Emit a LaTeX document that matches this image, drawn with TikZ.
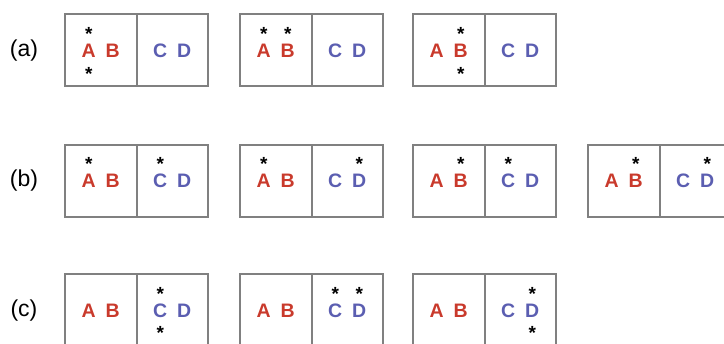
\documentclass[tikz,border=0pt]{standalone}
\usepackage{fontspec}
\setmainfont{Liberation Sans}
\usetikzlibrary{positioning}

\definecolor{pairred}{HTML}{C93A2C}
\definecolor{pairblue}{HTML}{5B5EB1}
\definecolor{boxgray}{HTML}{808080}

\newcommand{\redpair}{\textcolor{pairred}{A\hspace{9.9pt}B}}
\newcommand{\bluepair}{\textcolor{pairblue}{C\hspace{9.9pt}D}}

\begin{document}
\begin{tikzpicture}[
    x=1pt, y=1pt,
    node distance=0pt,
    half/.style={draw=boxgray, line width=2pt, outer sep=0pt, inner sep=0pt,
                 minimum width=71.5pt, minimum height=72pt,
                 font=\bfseries\fontsize{19.5}{19.5}\selectfont},
    starmark/.style={inner sep=0pt, anchor=base, yshift=-9pt,
                     font=\bfseries\fontsize{19}{19}\selectfont},
    rowlabel/.style={inner sep=0pt, font=\fontsize{23}{23}\selectfont}
]
\useasboundingbox (0,0) rectangle (724,344);

% Row (a)
\node[rowlabel] (la) at (24,293.5) {(a)};
\node[half] (a1l) at (100.75,293.5) {\redpair};
\node[half, right=of a1l] (a1r) {\bluepair};
\node[half] (a2l) at (275.75,293.5) {\redpair};
\node[half, right=of a2l] (a2r) {\bluepair};
\node[half] (a3l) at (448.75,293.5) {\redpair};
\node[half, right=of a3l] (a3r) {\bluepair};

\node[starmark] (a1s1) at (88.75,312.5) {*};
\node[starmark] (a1s2) at (88.75,272) {*};
\node[starmark] (a2s1) at (263.75,312.5) {*};
\node[starmark] (a2s2) at (287.75,312.5) {*};
\node[starmark] (a3s1) at (460.75,312.5) {*};
\node[starmark] (a3s2) at (460.75,272) {*};

% Row (b)
\node[rowlabel] (lb) at (24,163) {(b)};
\node[half] (b1l) at (100.75,163) {\redpair};
\node[half, right=of b1l] (b1r) {\bluepair};
\node[half] (b2l) at (275.75,163) {\redpair};
\node[half, right=of b2l] (b2r) {\bluepair};
\node[half] (b3l) at (448.75,163) {\redpair};
\node[half, right=of b3l] (b3r) {\bluepair};
\node[half] (b4l) at (623.75,163) {\redpair};
\node[half, right=of b4l] (b4r) {\bluepair};

\node[starmark] (b1s1) at (88.75,182.5) {*};
\node[starmark] (b1s2) at (160.25,182.5) {*};
\node[starmark] (b2s1) at (263.75,182.5) {*};
\node[starmark] (b2s2) at (359.25,182.5) {*};
\node[starmark] (b3s1) at (460.75,182.5) {*};
\node[starmark] (b3s2) at (508.25,182.5) {*};
\node[starmark] (b4s1) at (635.75,182.5) {*};
\node[starmark] (b4s2) at (707.25,182.5) {*};

% Row (c)
\node[rowlabel] (lc) at (24,33.5) {(c)};
\node[half] (c1l) at (100.75,33.5) {\redpair};
\node[half, right=of c1l] (c1r) {\bluepair};
\node[half] (c2l) at (275.75,33.5) {\redpair};
\node[half, right=of c2l] (c2r) {\bluepair};
\node[half] (c3l) at (448.75,33.5) {\redpair};
\node[half, right=of c3l] (c3r) {\bluepair};

\node[starmark] (c1s1) at (160.25,52.5) {*};
\node[starmark] (c1s2) at (160.25,13) {*};
\node[starmark] (c2s1) at (335.25,52.5) {*};
\node[starmark] (c2s2) at (359.25,52.5) {*};
\node[starmark] (c3s1) at (532.25,52.5) {*};
\node[starmark] (c3s2) at (532.25,13) {*};

\end{tikzpicture}
\end{document}
